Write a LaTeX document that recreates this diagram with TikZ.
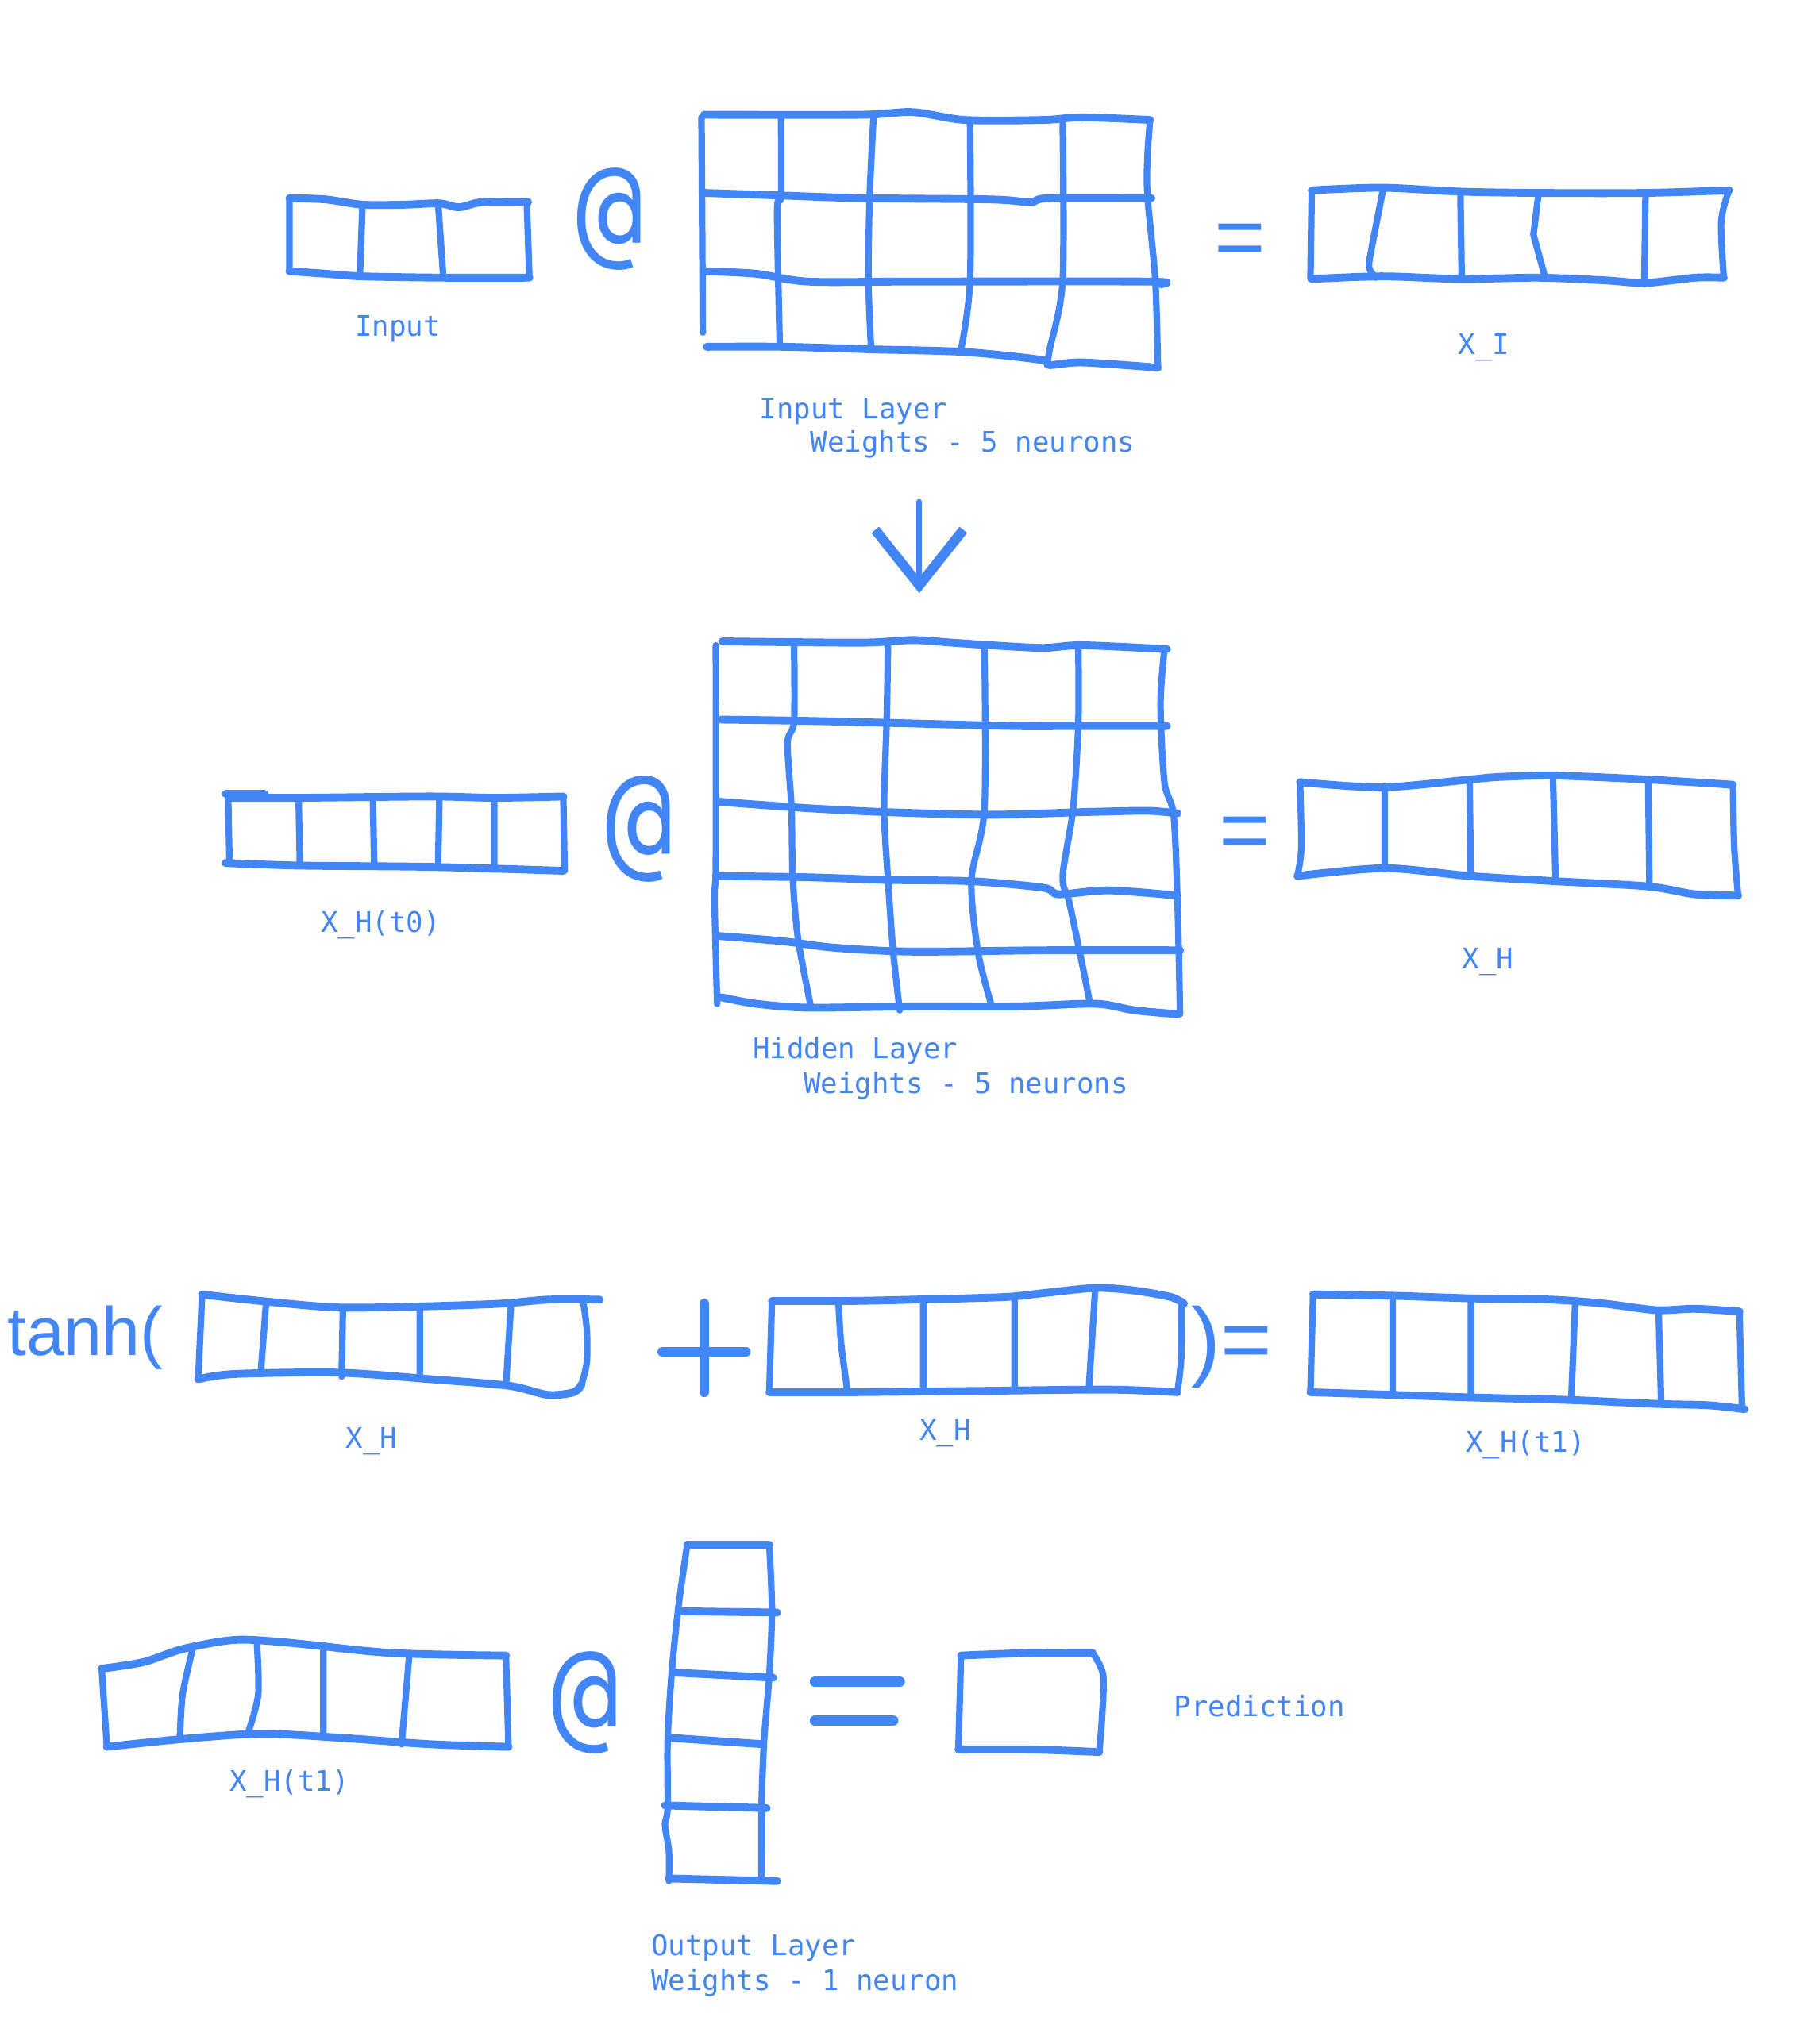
\documentclass[tikz,border=0pt]{standalone}
\usepackage{fontspec}
\setmonofont{DejaVu Sans Mono}
\newfontfamily\signfont{Liberation Sans}
\usetikzlibrary{arrows.meta}
\definecolor{skblue}{HTML}{4285F4}

\begin{document}
\begin{tikzpicture}[x=0.4pt, y=-0.4pt, line cap=round, line join=round,
    edge/.style={draw=skblue, line width=2.4pt},
    split/.style={draw=skblue, line width=2pt},
    lbl/.style={text=skblue, inner sep=0pt, font=\ttfamily\fontsize{8.7}{10}\selectfont},
    sign/.style={text=skblue, inner sep=0pt, font=\signfont\fontsize{27}{30}\selectfont},
    matmul/.style={text=skblue, inner sep=0pt, font=\ttfamily\fontsize{30}{32}\selectfont}]
    \fill[white] (0,0) rectangle (1380,1568);
    \path[use as bounding box] (0,0) rectangle (1380,1568);

    % row 1
    \draw[edge] plot[smooth] coordinates {(222,152) (250,153) (278,157) (310,157) (337,156) (352,159) (370,155) (405,155)};
    \draw[edge] plot[smooth] coordinates {(222,208) (250,210) (278,212) (340,213) (406,213)};
    \draw[split] (222,152) -- (222,208) (404,155) -- (406,213);
    \draw[split] (278,157) -- (276,211) (336,156) -- (340,213);
    \node[matmul] (at1) at (468,168) {\scalebox{1.15}[1.25]{@}};

    \draw[edge] plot[smooth] coordinates {(540,88) (660,88) (700,86) (740,92) (800,92) (830,90) (882,92)};
    \draw[edge] plot[smooth] coordinates {(540,148) (600,150) (660,152) (760,153) (790,155) (805,152) (883,152)};
    \draw[edge] plot[smooth] coordinates {(540,208) (580,210) (620,216) (700,216) (880,216) (890,218)};
    \draw[edge] plot[smooth] coordinates {(542,266) (600,266) (670,268) (740,270) (798,276) (805,280) (830,278) (888,282)};
    \draw[split] (538,90) -- (539,255);
    \draw[split] plot[smooth] coordinates {(599,90) (599,150) (596,162) (598,265)};
    \draw[split] plot[smooth] coordinates {(670,88) (667,150) (666,215) (668,266)};
    \draw[split] plot[smooth] coordinates {(744,95) (744,215) (737,268)};
    \draw[split] plot[smooth] coordinates {(815,95) (815,215) (805,268) (803,280)};
    \draw[split] plot[smooth] coordinates {(882,92) (880,120) (880,150) (886,215) (888,282)};
    \node[sign, anchor=base] (eq1) at (951,205) {=};

    \draw[edge] plot[smooth] coordinates {(1006,146) (1060,144) (1120,147) (1180,148) (1262,148) (1326,146)};
    \draw[edge] plot[smooth] coordinates {(1006,214) (1060,212) (1120,214) (1180,213) (1230,215) (1262,217) (1300,213) (1322,213)};
    \draw[split] (1006,146) -- (1005,214);
    \draw[split] plot[smooth] coordinates {(1326,146) (1320,170) (1322,213)};
    \draw[split] plot[smooth] coordinates {(1061,144) (1052,190) (1050,205) (1055,213)};
    \draw[split] (1120,147) -- (1121,214) (1180,148) -- (1176,180) -- (1185,213) (1262,148) -- (1261,218);

    \node[lbl, anchor=base] (inlbl) at (305,258) {Input};
    \node[lbl, anchor=base] (xilbl) at (1138,272) {X\_I};
    \node[lbl, anchor=base west] (illbl) at (582,321) {Input Layer};
    \node[lbl, anchor=base west] (iwlbl) at (621,347) {Weights - 5 neurons};

    \coordinate (arrtop) at (705,385);
    \coordinate (arrtip) at (705,455);
    \draw[draw=skblue, line width=1.8pt, -{Straight Barb[length=17pt, width=27pt, line width=3pt]}] (arrtop) -- (arrtip);

    % row 2
    \draw[edge] (173,609) -- (203,609);
    \draw[edge] plot[smooth] coordinates {(175,612) (230,612) (330,611) (380,612) (432,611)};
    \draw[edge] plot[smooth] coordinates {(173,662) (230,664) (330,665) (432,668)};
    \draw[split] (175,612) -- (176,662) (432,612) -- (433,668);
    \draw[split] (229,612) -- (230,664) (286,612) -- (287,665) (337,611) -- (336,665) (379,612) -- (379,667);
    \node[matmul] (at2) at (490,636) {\scalebox{1.15}[1.3]{@}};

    \draw[edge] plot[smooth] coordinates {(554,492) (660,493) (700,491) (730,493) (760,495) (800,497) (830,495) (895,498)};
    \draw[edge] plot[smooth] coordinates {(553,552) (620,553) (700,555) (780,557) (820,557) (895,557)};
    \draw[edge] plot[smooth] coordinates {(551,615) (620,620) (680,623) (760,625) (830,623) (880,622) (903,624)};
    \draw[edge] plot[smooth] coordinates {(549,672) (620,673) (680,675) (745,676) (800,681) (812,686) (850,683) (903,687)};
    \draw[edge] plot[smooth] coordinates {(551,718) (600,722) (640,727) (700,730) (800,729) (905,729)};
    \draw[edge] plot[smooth] coordinates {(553,765) (580,770) (620,773) (700,772) (780,772) (840,770) (870,775) (903,778)};
    \draw[split] plot[smooth] coordinates {(549,495) (549,660) (548,690) (550,770)};
    \draw[split] plot[smooth] coordinates {(609,495) (609,553) (604,570) (607,620) (608,673) (612,720) (622,773)};
    \draw[split] plot[smooth] coordinates {(681,495) (680,553) (678,620) (681,675) (685,730) (690,775)};
    \draw[split] plot[smooth] coordinates {(755,497) (755,620) (745,675) (750,730) (760,770)};
    \draw[split] plot[smooth] coordinates {(827,497) (827,555) (823,620) (815,672) (820,692) (828,730) (836,770)};
    \draw[split] plot[smooth] coordinates {(893,498) (890,540) (893,600) (900,625) (903,690) (905,778)};
    \node[sign, anchor=base] (eq2) at (955,660) {=};

    \draw[edge] plot[smooth] coordinates {(997,600) (1060,604) (1127,598) (1150,596) (1193,595) (1264,598) (1329,602)};
    \draw[edge] plot[smooth] coordinates {(995,672) (1062,666) (1127,672) (1193,676) (1264,680) (1300,686) (1333,687)};
    \draw[split] plot[smooth] coordinates {(997,600) (998,650) (995,672)};
    \draw[split] plot[smooth] coordinates {(1329,602) (1330,650) (1333,687)};
    \draw[split] (1062,603) -- (1062,667) (1127,598) -- (1128,672) (1191,596) -- (1193,676) (1264,598) -- (1265,681);

    \node[lbl, anchor=base] (xh0lbl) at (292,715) {X\_H(t0)};
    \node[lbl, anchor=base] (xhlbl) at (1141,743) {X\_H};
    \node[lbl, anchor=base west] (hllbl) at (577,812) {Hidden Layer};
    \node[lbl, anchor=base west] (hwlbl) at (616,839) {Weights - 5 neurons};

    % row 3
    \node[text=skblue, inner sep=0pt, anchor=base west, font=\signfont\fontsize{21}{24}\selectfont] (tanh) at (5,1040) {tanh(};
    \draw[edge] plot[smooth] coordinates {(155,993) (200,998) (260,1003) (330,1002) (385,1000) (420,997) (460,997)};
    \draw[edge] plot[smooth] coordinates {(152,1058) (180,1054) (260,1053) (330,1058) (390,1063) (420,1070) (440,1068) (446,1062)};
    \draw[split] (155,993) -- (152,1058);
    \draw[split] plot[smooth] coordinates {(447,997) (450,1020) (450,1045) (446,1062)};
    \draw[split] (204,1000) -- (200,1053) (263,1003) -- (262,1056) (322,1002) -- (322,1055) (392,999) -- (388,1063);

    \draw[draw=skblue, line width=3pt] (508,1037) -- (572,1037) (540,1000) -- (540,1068);

    \draw[edge] plot[smooth] coordinates {(592,998) (650,998) (700,997) (770,995) (800,992) (840,988) (870,990) (898,995) (908,1000)};
    \draw[edge] plot[smooth] coordinates {(590,1068) (650,1068) (750,1067) (850,1066) (903,1068)};
    \draw[split] (592,998) -- (590,1068);
    \draw[split] plot[smooth] coordinates {(906,998) (906,1040) (903,1068)};
    \draw[split] plot[smooth] coordinates {(643,998) (645,1030) (650,1068)};
    \draw[split] (708,997) -- (708,1068) (778,995) -- (778,1067) (840,988) -- (835,1066);
    \node[sign, anchor=base west] (paren) at (913,1051) {)=};

    \draw[edge] plot[smooth] coordinates {(1007,993) (1068,994) (1128,996) (1190,997) (1230,1000) (1270,1005) (1300,1004) (1334,1006)};
    \draw[edge] plot[smooth] coordinates {(1005,1068) (1068,1070) (1128,1072) (1205,1074) (1272,1077) (1310,1078) (1338,1081)};
    \draw[split] (1007,993) -- (1005,1068) (1334,1006) -- (1336,1081);
    \draw[split] (1068,994) -- (1068,1070) (1128,996) -- (1128,1072) (1208,1000) -- (1205,1074) (1272,1005) -- (1274,1077);

    \node[lbl, anchor=base] (xh1lbl) at (285,1111) {X\_H};
    \node[lbl, anchor=base] (xh2lbl) at (725,1105) {X\_H};
    \node[lbl, anchor=base] (xht1lbl) at (1170,1114) {X\_H(t1)};

    % row 4
    \draw[edge] plot[smooth] coordinates {(78,1280) (110,1275) (140,1265) (180,1258) (220,1260) (300,1268) (388,1270)};
    \draw[edge] plot[smooth] coordinates {(82,1340) (140,1334) (200,1330) (260,1333) (330,1338) (390,1340)};
    \draw[split] (78,1280) -- (82,1340) (388,1270) -- (390,1340);
    \draw[split] plot[smooth] coordinates {(148,1264) (140,1300) (138,1334)};
    \draw[split] plot[smooth] coordinates {(197,1260) (198,1300) (190,1330)};
    \draw[split] (248,1262) -- (248,1332) (314,1268) -- (308,1338);
    \node[matmul] (at3) at (449,1306) {\scalebox{1.15}[1.25]{@}};

    \draw[edge] (527,1185) -- (590,1185);
    \draw[split] plot[smooth] coordinates {(527,1185) (520,1235) (515,1285) (512,1335) (512,1387) (510,1400) (513,1420) (513,1443)};
    \draw[split] plot[smooth] coordinates {(590,1185) (592,1235) (590,1285) (586,1335) (584,1387) (584,1443)};
    \draw[edge] (522,1236) -- (596,1237) (517,1283) -- (593,1287) (513,1333) -- (585,1338) (510,1385) -- (588,1387) (513,1441) -- (596,1443);

    \draw[draw=skblue, line width=3.2pt] (625,1290) -- (690,1290) (625,1320) -- (685,1320);

    \draw[edge] plot[smooth] coordinates {(737,1270) (790,1268) (838,1268)};
    \draw[split] plot[smooth] coordinates {(838,1268) (846,1285) (845,1320) (843,1344)};
    \draw[edge] plot[smooth] coordinates {(735,1342) (790,1342) (843,1344)};
    \draw[split] (737,1270) -- (735,1342);

    \node[lbl, anchor=base west] (predlbl) at (900,1317) {Prediction};
    \node[lbl, anchor=base] (xht2lbl) at (222,1374) {X\_H(t1)};
    \node[lbl, anchor=base west] (ollbl) at (499,1500) {Output Layer};
    \node[lbl, anchor=base west] (owlbl) at (499,1527) {Weights - 1 neuron};
\end{tikzpicture}
\end{document}
